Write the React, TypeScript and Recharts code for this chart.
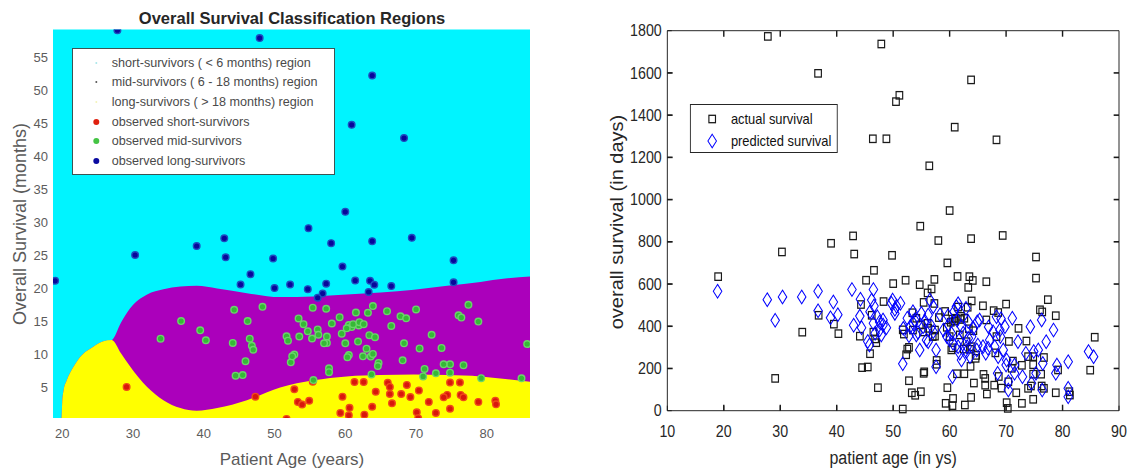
import { ComposedChart, ScatterChart, Area, Scatter, XAxis, YAxis, CartesianGrid } from "recharts"

// classifier decision boundaries, age (years) vs survival (months)
const boundaryAge = [18.7, 19.9, 20.0, 20.2, 20.6, 21.1, 21.8, 22.5, 23.4, 24.4, 25.8, 27.0, 28.3, 29.6, 32.0, 34.3, 36.7, 39.0, 41.9, 46.1, 50.8, 55.5, 60.2, 65.0, 69.7, 74.4, 79.1, 82.6, 86.1]
const lowerBoundary = [0.4, 0.4, 2.8, 4.6, 6.0, 7.2, 8.5, 9.6, 10.5, 11.2, 12.0, 12.2, 10.2, 8.2, 5.1, 3.1, 1.9, 1.5, 1.9, 3.1, 5.0, 6.1, 6.7, 6.9, 7.0, 6.9, 6.7, 6.3, 5.9]
const upperBoundary = [0.4, 0.4, 2.8, 4.6, 6.0, 7.2, 8.5, 9.6, 10.5, 11.2, 12.0, 12.2, 14.8, 17.0, 19.1, 19.9, 20.3, 20.4, 20.0, 19.3, 18.7, 18.8, 19.1, 19.4, 19.8, 20.4, 21.0, 21.5, 21.8]

// [age, survival in days]
const actualSurvival: [number, number][] = [
  [27.8, 1773], [47.9, 1737], [36.7, 1598], [63.8, 1567], [51.1, 1494], [50.5, 1464], [60.9, 1343], [46.4, 1288], [48.8, 1288], [68.3, 1283],
  [56.4, 1160], [60.0, 948], [54.8, 874], [42.9, 828], [63.8, 815], [69.4, 830], [58.0, 806], [39.0, 793], [30.3, 752], [43.1, 742],
  [49.8, 736], [75.3, 728], [59.6, 700], [46.6, 665], [19.0, 635], [75.3, 628], [61.4, 636], [63.5, 635], [57.3, 622], [64.1, 617],
  [52.2, 618], [45.2, 618], [66.5, 611], [50.0, 602], [54.7, 597], [56.8, 577], [63.3, 584], [56.1, 558],
  [77.4, 526], [63.9, 520], [48.3, 517], [70.0, 505], [65.9, 497], [55.4, 513], [57.3, 508], [63.2, 490], [61.5, 491], [44.3, 503],
  [76.0, 478], [67.8, 474], [76.4, 468], [59.2, 470], [78.8, 450], [36.8, 452], [58.1, 441], [68.6, 465], [60.5, 434], [61.9, 432],
  [60.9, 425], [46.2, 452], [39.5, 410], [72.2, 390], [85.7, 348], [33.9, 372], [40.3, 365], [70.5, 328], [73.6, 330], [44.1, 353],
  [46.5, 372], [46.8, 340], [47.0, 322], [51.7, 383], [51.9, 363], [57.4, 353], [55.3, 373], [63.4, 388], [52.8, 300], [60.5, 298],
  [52.3, 265], [45.9, 270], [62.5, 292], [64.7, 262], [68.1, 274], [76.7, 252], [57.7, 238], [57.7, 220], [71.2, 235], [72.8, 215],
  [74.8, 218], [74.8, 256], [84.9, 192], [79.2, 193], [44.5, 204], [45.5, 207], [55.5, 184], [63.7, 210], [53.4, 464], [54.1, 438],
  [61.1, 438], [62.0, 447], [62.6, 438], [56.1, 414], [54.7, 406], [59.5, 395], [60.2, 419], [64.2, 379], [57.0, 351], [56.2, 390],
  [60.3, 288], [63.6, 291], [52.5, 292], [64.6, 248], [71.0, 201], [73.9, 256], [66.5, 430], [53.5, 382], [57.4, 382], [60.0, 351],
  [61.8, 359], [63.0, 327], [68.3, 351], [63.9, 303],
  [74.8, 173], [61.3, 175], [62.6, 175], [66.0, 172], [76.2, 173], [29.1, 153], [52.8, 142], [68.7, 162], [66.3, 153], [64.3, 131],
  [74.4, 117], [66.3, 121], [67.9, 121], [76.3, 117], [47.3, 109], [59.6, 109], [69.2, 107], [76.7, 106], [71.8, 85], [78.8, 85],
  [81.2, 90], [53.3, 85], [54.9, 90], [66.6, 79], [53.9, 73], [60.6, 58], [63.8, 63], [74.8, 54], [59.3, 35], [62.7, 27],
  [60.5, 24], [70.1, 38], [72.8, 35], [51.7, 8], [70.3, 11], [81.3, 74], [55.4, 177], [73.9, 106], [70.4, 137],
]

const predictedSurvival: [number, number][] = [
  [18.9, 566], [27.7, 526], [29.1, 428], [30.4, 539], [33.8, 539], [36.7, 566], [36.7, 473], [38.9, 440], [39.4, 515], [40.2, 455],
  [42.7, 574], [43.0, 405], [44.1, 448], [44.2, 528], [44.4, 393], [45.5, 328], [45.8, 311], [45.9, 469], [46.2, 524], [46.5, 574],
  [46.5, 414], [46.6, 496], [46.8, 367], [47.2, 445], [47.6, 382], [47.6, 420], [47.9, 359], [48.2, 406], [48.2, 430], [48.8, 393],
  [49.7, 509], [49.9, 524], [50.3, 461], [50.3, 480], [50.6, 495], [51.3, 509], [51.7, 222], [51.8, 390], [52.5, 438], [52.8, 355],
  [53.0, 398], [53.5, 469], [53.6, 412], [53.8, 430], [54.1, 359], [54.4, 370], [54.7, 288], [55.0, 461], [55.3, 398], [55.6, 425],
  [55.9, 335], [56.2, 453], [56.2, 327], [56.5, 524], [56.8, 400], [57.1, 493], [57.1, 374], [57.6, 288], [57.6, 208], [58.3, 455],
  [58.9, 382], [59.5, 351], [59.7, 450], [59.8, 406], [60.0, 335], [60.3, 367], [60.5, 161], [60.6, 319], [60.8, 470], [61.2, 493],
  [61.3, 430], [61.5, 303], [61.5, 507], [61.7, 335], [61.8, 272], [62.1, 240], [62.1, 398], [62.4, 367], [62.9, 485], [63.0, 280],
  [63.1, 303], [63.3, 422], [63.3, 343], [63.6, 256], [63.9, 351], [64.2, 390], [64.8, 288], [64.9, 421], [65.0, 311], [65.3, 430],
  [65.9, 303], [66.4, 272], [66.8, 296], [66.9, 397], [67.1, 335], [67.7, 374], [68.0, 303], [68.3, 445], [68.5, 177], [68.6, 256],
  [68.9, 382], [69.0, 351], [69.1, 436], [69.5, 288], [69.8, 398], [70.0, 216], [70.1, 240], [70.4, 137], [70.4, 98], [71.1, 438],
  [71.5, 177], [71.5, 216], [72.1, 327], [72.9, 161], [73.5, 272], [74.3, 398], [74.5, 130], [74.9, 280], [75.3, 177], [75.7, 288],
  [76.3, 430], [76.4, 98], [76.5, 224], [77.1, 327], [78.4, 382], [78.8, 177], [79.0, 216], [81.0, 232], [81.0, 106], [81.0, 66],
  [84.6, 280], [85.5, 256],
]

const leftAgeTicks = [20, 30, 40, 50, 60, 70, 80]
const monthTicks = [5, 10, 15, 20, 25, 30, 35, 40, 45, 50, 55]
const rightAgeTicks = [10, 20, 30, 40, 50, 60, 70, 80, 90]
const dayTicks = [0, 200, 400, 600, 800, 1000, 1200, 1400, 1600, 1800]

const regionLegend = [
  { label: "short-survivors ( < 6 months) region", color: "#a8e6ea", r: 1 },
  { label: "mid-survivors ( 6 - 18 months) region", color: "#555", r: 1 },
  { label: "long-survivors ( > 18 months) region", color: "#f4f4b8", r: 1 },
  { label: "observed short-survivors", color: "#e0200e", r: 3 },
  { label: "observed mid-survivors", color: "#44c444", r: 3 },
  { label: "observed long-survivors", color: "#0a0aa0", r: 3 },
]

const FONT = "'Liberation Sans', Arial, sans-serif"
const INK = "#1a1a1a"

const regionData = boundaryAge.map((x, i) => ({ x, lower: lowerBoundary[i], upper: upperBoundary[i] }))
const inMonths = actualSurvival.map(([age, days]) => ({ x: age, y: days / 30 }))
const shortObs = inMonths.filter((p) => p.y < 6)
const midObs = inMonths.filter((p) => p.y >= 6 && p.y <= 18)
const longObs = inMonths.filter((p) => p.y > 18)

const actualPts = actualSurvival.map(([x, y]) => ({ x, y }))
const predictedPts = predictedSurvival.map(([x, y]) => ({ x, y }))

// inward tick marks of the boxed right axes, anchored on the tick values
const AGE_MIN = rightAgeTicks[0]
const AGE_MAX = rightAgeTicks[rightAgeTicks.length - 1]
const DAY_MIN = dayTicks[0]
const DAY_MAX = dayTicks[dayTicks.length - 1]
const innerAges = rightAgeTicks.slice(1, -1)
const innerDays = dayTicks.slice(1, -1)
const bottomTickPts = innerAges.map((x) => ({ x, y: DAY_MIN }))
const topTickPts = innerAges.map((x) => ({ x, y: DAY_MAX }))
const leftTickPts = innerDays.map((y) => ({ x: AGE_MIN, y }))
const rightTickPts = innerDays.map((y) => ({ x: AGE_MAX, y }))
const TICK = 6

const tickMark = (dx: number, dy: number) => (p: any) => (
  <path d={`M${p.cx},${p.cy} L${p.cx + dx},${p.cy + dy}`} fill="none" stroke={INK} strokeWidth={1.6} />
)

const roundDot = (fill: string, edge: string) => (p: any) => (
  <circle cx={p.cx} cy={p.cy} r={3.3} fill={fill} stroke={edge} strokeWidth={1.4} />
)

const squareMark = (p: any) => (
  <rect x={p.cx - 3.7} y={p.cy - 3.7} width={7.4} height={7.4} fill="none" stroke="#1a1a1a" strokeWidth={1.3} />
)

const diamondMark = (p: any) => (
  <path
    d={`M${p.cx},${p.cy - 6.8} L${p.cx + 4.8},${p.cy} L${p.cx},${p.cy + 6.8} L${p.cx - 4.8},${p.cy} Z`}
    fill="none"
    stroke="#0000ff"
    strokeWidth={1.1}
  />
)

function RegionsPanel() {
  return (
    <div style={{ position: "absolute", left: 0, top: 0, width: 560, height: 469 }}>
      <div style={{ position: "absolute", left: 292, top: 18, transform: "translate(-50%,-50%)", whiteSpace: "nowrap", fontWeight: "bold", fontSize: 16.5, color: "#262626" }}>
        Overall Survival Classification Regions
      </div>

      <ComposedChart width={560} height={469} data={regionData} margin={{ top: 29.5, right: 30, bottom: 0, left: 0 }}>
        <CartesianGrid horizontal={false} vertical={false} fill="#00f4ff" fillOpacity={1} />
        <XAxis dataKey="x" type="number" domain={[18.7, 86.1]} allowDataOverflow ticks={leftAgeTicks} height={51}
          axisLine={false} tickLine={false} tickSize={0} tickMargin={11} tick={{ fill: "#5c5c5c", fontSize: 13, fontFamily: FONT }} />
        <YAxis type="number" domain={[0.4, 59.2]} allowDataOverflow ticks={monthTicks} width={53}
          axisLine={false} tickLine={false} tickSize={0} tickMargin={5} tick={{ fill: "#5c5c5c", fontSize: 13, fontFamily: FONT }} />
        <Area type="monotone" dataKey="upper" baseValue="dataMin" stroke="none" fill="#ab00bb" fillOpacity={1} isAnimationActive={false} activeDot={false} />
        <Area type="monotone" dataKey="lower" baseValue="dataMin" stroke="none" fill="#ffff00" fillOpacity={1} isAnimationActive={false} activeDot={false} />
        <Scatter data={shortObs} dataKey="y" shape={roundDot("#d8180c", "#f04a18")} isAnimationActive={false} />
        <Scatter data={midObs} dataKey="y" shape={roundDot("#36b836", "#6ad46a")} isAnimationActive={false} />
        <Scatter data={longObs} dataKey="y" shape={roundDot("#08089a", "#1e4cc0")} isAnimationActive={false} />
      </ComposedChart>

      <div style={{ position: "absolute", left: 71.7, top: 48.3, width: 263.3, height: 126.7, boxSizing: "border-box", border: "1px solid #3d5454", background: "#fff" }}>
        {regionLegend.map((item, i) => (
          <div key={item.label} style={{ position: "absolute", left: 0, top: 13.4 + i * 19.7 - 8, height: 16, display: "flex", alignItems: "center" }}>
            <svg width={39} height={16}>
              <circle cx={23.3} cy={8} r={item.r} fill={item.color} />
            </svg>
            <span style={{ fontSize: 12.6, color: "#4a4a4a", whiteSpace: "nowrap" }}>{item.label}</span>
          </div>
        ))}
      </div>

      <div style={{ position: "absolute", left: 20, top: 224, transform: "translate(-50%,-50%) rotate(-90deg)", whiteSpace: "nowrap", fontSize: 18, color: "#5a5a5a" }}>
        Overall Survival (months)
      </div>
      <div style={{ position: "absolute", left: 292, top: 460, transform: "translate(-50%,-50%)", whiteSpace: "nowrap", fontSize: 17, color: "#5a5a5a" }}>
        Patient Age (years)
      </div>
    </div>
  )
}

function SurvivalPanel() {
  const hiddenLabel = { fill: "none", fontSize: 1 }
  return (
    <div style={{ position: "absolute", left: 560, top: 0, width: 638, height: 469, transform: "scaleX(0.89)", transformOrigin: "0 0" }}>
      <ScatterChart width={638} height={469} margin={{ top: 30.7, right: 9.9, bottom: 0, left: 0 }}>
        {/* negative tick size turns the tick marks inward */}
        <XAxis xAxisId="main" dataKey="x" type="number" domain={[AGE_MIN, AGE_MAX]} ticks={rightAgeTicks} height={58.3}
          axisLine={{ stroke: INK }} tickLine={{ stroke: INK }} tickSize={-5} tickMargin={20}
          tick={{ fill: "#262626", fontSize: 16, fontFamily: FONT }} />
        <XAxis xAxisId="top" type="number" domain={[AGE_MIN, AGE_MAX]} ticks={rightAgeTicks} orientation="top" mirror
          axisLine={{ stroke: INK }} tickLine={{ stroke: INK }} tickSize={5} tick={hiddenLabel} />
        <YAxis yAxisId="main" type="number" domain={[DAY_MIN, DAY_MAX]} ticks={dayTicks} width={120.6}
          axisLine={{ stroke: INK }} tickLine={{ stroke: INK }} tickSize={-5} tickMargin={11.3}
          tick={{ fill: "#262626", fontSize: 16, fontFamily: FONT }} />
        <YAxis yAxisId="right" type="number" domain={[DAY_MIN, DAY_MAX]} ticks={dayTicks} orientation="right" mirror
          axisLine={{ stroke: INK }} tickLine={{ stroke: INK }} tickSize={5} tick={hiddenLabel} />

        <Scatter xAxisId="main" yAxisId="main" data={bottomTickPts} dataKey="y" shape={tickMark(0, -TICK)} isAnimationActive={false} />
        <Scatter xAxisId="main" yAxisId="main" data={topTickPts} dataKey="y" shape={tickMark(0, TICK)} isAnimationActive={false} />
        <Scatter xAxisId="main" yAxisId="main" data={leftTickPts} dataKey="y" shape={tickMark(TICK, 0)} isAnimationActive={false} />
        <Scatter xAxisId="main" yAxisId="main" data={rightTickPts} dataKey="y" shape={tickMark(-TICK, 0)} isAnimationActive={false} />

        <Scatter xAxisId="main" yAxisId="main" data={actualPts} dataKey="y" shape={squareMark} isAnimationActive={false} />
        <Scatter xAxisId="main" yAxisId="main" data={predictedPts} dataKey="y" shape={diamondMark} isAnimationActive={false} />
      </ScatterChart>

      <div style={{ position: "absolute", left: 146, top: 104.3, width: 165.6, height: 48.4, boxSizing: "border-box", border: "1px solid #262626", background: "#fff" }}>
        <div style={{ position: "absolute", left: 0, top: 14 - 9, height: 18, display: "flex", alignItems: "center" }}>
          <svg width={45} height={18}>
            <rect x={20.3} y={5.3} width={7.4} height={7.4} fill="none" stroke="#1a1a1a" strokeWidth={1.3} />
          </svg>
          <span style={{ fontSize: 14.5, color: "#111", whiteSpace: "nowrap" }}>actual survival</span>
        </div>
        <div style={{ position: "absolute", left: 0, top: 35.7 - 9, height: 18, display: "flex", alignItems: "center" }}>
          <svg width={45} height={18}>
            <path d="M24,2.2 L28.8,9 L24,15.8 L19.2,9 Z" fill="none" stroke="#0000ff" strokeWidth={1.1} />
          </svg>
          <span style={{ fontSize: 14.5, color: "#111", whiteSpace: "nowrap" }}>predicted survival</span>
        </div>
      </div>

      <div style={{ position: "absolute", left: 63.6, top: 221.7, transform: "translate(-50%,-50%) rotate(-90deg)", whiteSpace: "nowrap", fontSize: 20, color: "#262626" }}>
        overall survival (in days)
      </div>
      <div style={{ position: "absolute", left: 374.3, top: 458, transform: "translate(-50%,-50%)", whiteSpace: "nowrap", fontSize: 18, color: "#262626" }}>
        patient age (in ys)
      </div>
    </div>
  )
}

export default function App() {
  return (
    <div style={{ position: "relative", width: 1128, height: 469, background: "#fff", fontFamily: FONT, overflow: "hidden" }}>
      <style>{"body{margin:0}"}</style>
      <RegionsPanel />
      <SurvivalPanel />
    </div>
  )
}
